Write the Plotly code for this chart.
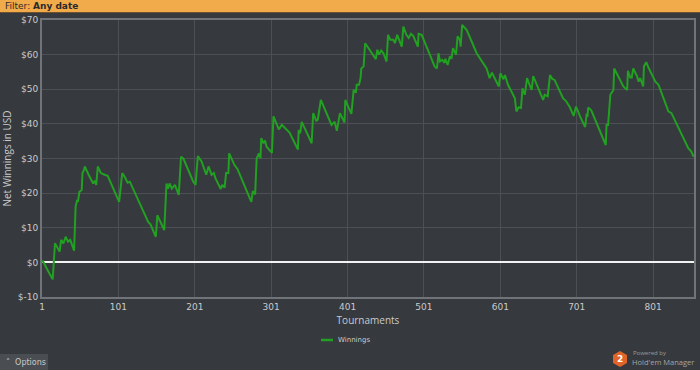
import plotly.graph_objects as go

# ---- data ----
tournaments = [1, 2, 7, 12, 15, 18, 20, 24, 26, 29, 32, 35, 38, 43, 45, 47, 48, 50, 53, 54,
               56, 57, 62, 68, 70, 72, 74, 78, 83, 87, 102, 106, 109, 113, 116, 140, 143, 150,
               152, 155, 161, 164, 166, 168, 171, 175, 180, 183, 186, 199, 202, 205, 210, 216,
               219, 223, 226, 228, 235, 237, 240, 242, 245, 246, 253, 257, 275, 277, 280, 282,
               285, 287, 288, 291, 293, 295, 302, 304, 308, 311, 315, 319, 325, 336, 337, 339,
               341, 345, 354, 356, 360, 362, 366, 380, 384, 387, 391, 397, 398, 406, 409, 412,
               413, 416, 418, 419, 422, 424, 428, 435, 438, 440, 442, 445, 448, 452, 454, 457,
               461, 463, 466, 472, 474, 478, 481, 484, 487, 493, 494, 498, 515, 518, 520, 522,
               525, 528, 529, 532, 535, 537, 539, 543, 545, 548, 549, 551, 555, 557, 570, 581,
               583, 587, 590, 599, 601, 605, 607, 611, 620, 622, 625, 628, 630, 633, 636, 640,
               642, 644, 657, 659, 663, 666, 669, 672, 683, 687, 692, 697, 700, 703, 705, 712,
               714, 715, 716, 720, 739, 740, 742, 745, 747, 749, 750, 762, 767, 768, 771, 773,
               775, 780, 782, 784, 788, 789, 792, 795, 804, 808, 821, 825, 847, 851, 854]
winnings = [0, 0.5, -1.7, -3.7, -4.9, 5.5, 4.7, 3.1, 6.5, 5.5, 7.4, 6.0, 6.5, 3.4, 16.1, 18.0,
            17.5, 20.4, 20.9, 25.8, 26.7, 27.7, 25.3, 22.8, 23.6, 22.4, 27.7, 25.8, 25.3, 25.0,
            17.5, 25.8, 24.8, 23.0, 23.3, 11.7, 11.0, 7.4, 13.6, 12.2, 9.3, 22.8, 21.3, 22.8,
            21.3, 22.4, 19.5, 30.5, 30.0, 23.3, 22.4, 30.7, 29.1, 25.3, 27.7, 25.3, 25.8, 24.3,
            21.2, 22.4, 21.6, 25.8, 25.8, 31.5, 28.1, 26.9, 17.5, 20.6, 19.6, 30.0, 31.5, 30.0,
            35.9, 34.4, 35.2, 33.4, 31.6, 42.2, 40.1, 38.4, 39.7, 38.7, 37.5, 32.6, 38.2, 37.3,
            40.6, 38.7, 34.4, 43.1, 40.9, 41.2, 46.9, 39.7, 40.6, 38.0, 43.1, 40.4, 46.9, 42.9,
            49.8, 49.0, 51.3, 51.3, 53.2, 56.0, 56.6, 63.3, 61.9, 59.5, 58.7, 61.4, 60.0, 61.2,
            60.4, 58.0, 65.7, 64.3, 64.3, 63.3, 65.7, 62.3, 68.1, 65.7, 64.8, 66.0, 65.4, 62.3,
            66.0, 65.7, 56.6, 56.0, 60.4, 58.0, 58.5, 57.6, 58.8, 57.0, 59.5, 58.8, 61.9, 60.0,
            65.3, 64.3, 62.3, 68.6, 67.7, 67.1, 60.4, 56.6, 56.0, 53.2, 54.8, 50.8, 54.6, 52.9,
            54.1, 51.3, 47.4, 43.6, 44.8, 44.6, 50.3, 48.4, 53.2, 50.8, 49.8, 53.8, 46.9, 48.4,
            48.0, 54.1, 53.0, 52.7, 47.4, 46.6, 44.8, 42.3, 45.0, 43.5, 42.3, 39.1, 43.0, 42.0,
            44.7, 43.9, 33.9, 39.7, 39.7, 48.4, 49.3, 49.8, 56.0, 50.8, 49.8, 55.3, 53.4, 53.4,
            56.0, 53.7, 52.2, 53.2, 50.8, 56.6, 57.8, 56.2, 52.2, 51.3, 43.6, 43.1, 33.0, 32.0,
            30.5]

x_tick_vals = [1, 101, 201, 301, 401, 501, 601, 701, 801]
y_tick_vals = [-10, 0, 10, 20, 30, 40, 50, 60, 70]
y_tick_text = ["$-10", "$0", "$10", "$20", "$30", "$40", "$50", "$60", "$70"]
series_name = "Winnings"

# ---- layout helpers (pixel -> paper) ----
W, H = 700, 370
L, R, T, B = 42, 6, 20, 73
PW, PH = W - L - R, H - T - B


def px(x):
    return (x - L) / PW


def py(y):
    return (H - B - y) / PH


BG = "#36393d"
TXT = "#c9cbcd"
GREEN = "#22a022"

fig = go.Figure()
fig.add_trace(go.Scatter(
    x=tournaments, y=winnings, mode="lines", name=series_name,
    line=dict(color=GREEN, width=2),
    hoverinfo="skip", showlegend=False,
))

fig.update_layout(
    width=W, height=H,
    margin=dict(l=L, r=R, t=T, b=B, pad=0, autoexpand=False),
    paper_bgcolor=BG, plot_bgcolor=BG,
    font=dict(family="DejaVu Sans", size=9, color=TXT),
    showlegend=False,
    xaxis=dict(
        range=[1, 854.5], tickvals=x_tick_vals, ticktext=[str(v) for v in x_tick_vals],
        showgrid=True, gridcolor="#4c4f53", gridwidth=1,
        showline=True, linecolor="#707377", linewidth=2, mirror=True,
        zeroline=False, ticks="", ticklen=0, automargin=False,
        tickfont=dict(family="DejaVu Sans", size=9, color=TXT),
        title=dict(text="Tournaments", font=dict(family="Open Sans", size=10, color=TXT),
                   standoff=6),
    ),
    yaxis=dict(
        range=[-10, 70], tickvals=y_tick_vals, ticktext=y_tick_text,
        showgrid=True, gridcolor="#4c4f53", gridwidth=1,
        showline=True, linecolor="#707377", linewidth=2, mirror=True,
        zeroline=True, zerolinecolor="#f2f2f2", zerolinewidth=2,
        ticks="", ticklen=0, automargin=False,
        tickfont=dict(family="DejaVu Sans", size=9, color=TXT),
        title=dict(text="Net Winnings in USD", font=dict(family="Open Sans", size=10, color=TXT),
                   standoff=4),
    ),
)

shapes = []
# top filter bar
shapes.append(dict(type="rect", xref="paper", yref="paper",
                   x0=px(0), x1=px(W), y0=py(12), y1=py(0),
                   fillcolor="#f2ab4a", line=dict(width=0), layer="above"))
shapes.append(dict(type="rect", xref="paper", yref="paper",
                   x0=px(0), x1=px(W), y0=py(13), y1=py(12),
                   fillcolor="#6b5230", line=dict(width=0), layer="above"))
# legend sample line
shapes.append(dict(type="line", xref="paper", yref="paper",
                   x0=px(321), x1=px(333), y0=py(340), y1=py(340),
                   line=dict(color=GREEN, width=2.5), layer="above"))
# options button
shapes.append(dict(type="rect", xref="paper", yref="paper",
                   x0=px(0), x1=px(48), y0=py(370), y1=py(354),
                   fillcolor="#4a4d51", line=dict(width=0), layer="above"))
# logo hexagon
cx, cy, r = 620, 359, 8
hexpts = [(cx, cy - r), (cx + 7, cy - r / 2), (cx + 7, cy + r / 2), (cx, cy + r),
          (cx - 7, cy + r / 2), (cx - 7, cy - r / 2)]
path = "M " + " L ".join(f"{px(a):.5f},{py(b):.5f}" for a, b in hexpts) + " Z"
shapes.append(dict(type="path", xref="paper", yref="paper", path=path,
                   fillcolor="#e0642a", line=dict(width=0), layer="above"))
fig.update_layout(shapes=shapes)

ann = [
    dict(text="Filter: <b>Any date</b>", x=px(3), y=py(6.5), xanchor="left", yanchor="middle",
         font=dict(family="DejaVu Sans", size=9, color="#2a2a2a")),
    dict(text=series_name, x=px(336), y=py(340), xanchor="left", yanchor="middle",
         font=dict(family="DejaVu Sans", size=7, color=TXT)),
    dict(text="˄  Options", x=px(4), y=py(362), xanchor="left", yanchor="middle",
         font=dict(family="DejaVu Sans", size=8, color=TXT)),
    dict(text="<b>2</b>", x=px(620), y=py(359), xanchor="center", yanchor="middle",
         font=dict(family="DejaVu Sans", size=9, color="#ffffff")),
    dict(text="Powered by", x=px(631), y=py(353), xanchor="left", yanchor="middle",
         font=dict(family="Open Sans", size=6, color="#9a9c9e")),
    dict(text="Hold'em Manager", x=px(630), y=py(362), xanchor="left", yanchor="middle",
         font=dict(family="Open Sans", size=7.5, color="#a4a6a8")),
]
for a in ann:
    a.update(xref="paper", yref="paper", showarrow=False)
fig.update_layout(annotations=ann)

fig.write_html(
    "out.html",
    config={"displayModeBar": False},
    post_script="document.body.style.margin='0';document.body.style.overflow='hidden';",
)
